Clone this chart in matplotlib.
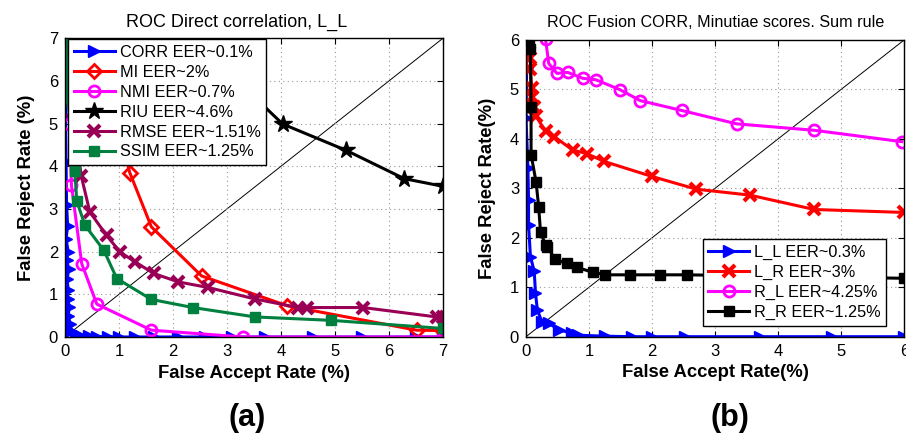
import matplotlib
matplotlib.use("Agg")
import matplotlib.pyplot as plt

plt.rcParams["font.family"] = ["Liberation Sans", "DejaVu Sans"]

# ---- panel (a): ROC Direct correlation, L_L ----
corr_far = [0.02, 0.03, 0.01, 0.02, 0.03, 0.05, 0.02, 0.06, 0.03, 0.07, 0.04, 0.06, 0.05, 0.08,
            0.06, 0.10, 0.12, 0.20, 0.30, 0.45, 0.60, 0.80, 1.00, 1.30, 1.65, 2.10, 2.60, 3.10,
            3.70, 4.60, 5.50, 6.50, 7.00]
corr_frr = [7.00, 6.45, 5.15, 4.10, 3.10, 2.60, 2.30, 2.00, 1.80, 1.60, 1.35, 1.10, 0.90, 0.70,
            0.50, 0.30, 0.15, 0.06, 0.03, 0.02, 0.01, 0.01, 0.0, 0.0, 0.0, 0.0, 0.0, 0.0,
            0.0, 0.0, 0.0, 0.0, 0.0]

mi_far = [0.60, 0.90, 1.20, 1.60, 2.53, 4.12, 6.51, 7.00]
mi_frr = [7.00, 5.30, 3.85, 2.58, 1.43, 0.73, 0.16, 0.15]

nmi_far = [0.05, 0.08, 0.12, 0.31, 0.59, 1.60, 3.30, 7.00]
nmi_frr = [7.00, 5.00, 3.56, 1.72, 0.77, 0.16, 0.00, 0.00]

riu_far = [2.37, 4.03, 5.21, 6.28, 7.00]
riu_frr = [7.00, 4.99, 4.37, 3.71, 3.53]

rmse_far = [0.02, 0.03, 0.15, 0.30, 0.46, 0.77, 1.02, 1.30, 1.64, 2.10, 2.65, 3.52, 4.32, 4.48,
            5.52, 6.88, 7.00]
rmse_frr = [7.00, 6.45, 5.30, 3.78, 2.93, 2.38, 1.99, 1.76, 1.49, 1.29, 1.16, 0.89, 0.69, 0.69,
            0.69, 0.47, 0.46]

ssim_far = [0.02, 0.05, 0.18, 0.22, 0.37, 0.72, 0.96, 1.60, 2.37, 3.52, 4.93, 7.00]
ssim_frr = [7.00, 5.60, 3.90, 3.18, 2.62, 2.03, 1.37, 0.88, 0.69, 0.47, 0.39, 0.20]

# ---- panel (b): ROC Fusion CORR, Minutiae scores. Sum rule ----
ll_far = [0.00, 0.01, 0.00, 0.03, 0.04, 0.04, 0.07, 0.13, 0.15, 0.18, 0.25, 0.36, 0.52, 0.73,
          0.83, 1.26, 1.68, 2.00, 2.52, 3.71, 4.85, 6.00]
ll_frr = [6.00, 5.42, 4.41, 3.41, 2.76, 2.26, 1.62, 1.32, 0.88, 0.54, 0.30, 0.27, 0.14, 0.07,
          0.03, 0.01, 0.0, 0.0, 0.0, 0.0, 0.0, 0.0]

lr_far = [0.03, 0.04, 0.07, 0.07, 0.09, 0.10, 0.12, 0.16, 0.31, 0.45, 0.74, 0.96, 1.24, 1.99,
          2.70, 3.55, 4.57, 6.00]
lr_frr = [6.00, 5.93, 5.63, 5.40, 5.02, 4.85, 4.65, 4.45, 4.15, 4.04, 3.77, 3.70, 3.54, 3.24,
          2.98, 2.86, 2.57, 2.51]

rl_far = [0.31, 0.36, 0.49, 0.66, 0.90, 1.11, 1.49, 1.81, 2.47, 3.34, 4.57, 5.96]
rl_frr = [6.01, 5.52, 5.32, 5.34, 5.22, 5.19, 4.99, 4.77, 4.57, 4.30, 4.17, 3.94]

rr_far = [0.05, 0.07, 0.08, 0.08, 0.16, 0.20, 0.23, 0.31, 0.34, 0.46, 0.65, 0.81, 1.06, 1.26,
          1.65, 2.13, 2.55, 6.00]
rr_frr = [6.00, 5.81, 4.64, 3.68, 3.12, 2.63, 2.11, 1.85, 1.82, 1.56, 1.48, 1.40, 1.30, 1.25,
          1.25, 1.25, 1.25, 1.18]


def style_axes(ax, lim):
    ax.set_xlim(0, lim)
    ax.set_ylim(0, lim)
    ax.set_xticks(range(lim + 1))
    ax.set_yticks(range(lim + 1))
    ax.plot([0, lim], [0, lim], color="black", linewidth=0.7, zorder=1)
    ax.grid(True, linestyle=(0, (1, 3)), color="#999999", linewidth=0.8)
    ax.tick_params(direction="in", top=True, right=True, labelsize=12, length=4, pad=5)
    for s in ax.spines.values():
        s.set_linewidth(1.0)
        s.set_zorder(5)


def add_legend(ax, **kw):
    leg = ax.legend(borderaxespad=0, fontsize=11.7, numpoints=1, handlelength=2.5,
                    handletextpad=0.3, labelspacing=0.3, borderpad=0.35, fancybox=False,
                    framealpha=1, edgecolor="black", **kw)
    leg.get_frame().set_linewidth(1.0)
    leg.set_zorder(6)
    return leg


fig = plt.figure(figsize=(9.06, 4.34), dpi=100)
ax1 = fig.add_axes([0.0717, 0.2235, 0.4173, 0.6885])
ax2 = fig.add_axes([0.5806, 0.2242, 0.4177, 0.6843])

lw = 2.2
ax1.plot(corr_far, corr_frr, color="#0000ff", lw=lw, marker=">", ms=8.5, label="CORR EER~0.1%")
ax1.plot(mi_far, mi_frr, color="#ff0000", lw=lw, marker="D", ms=7, mfc="none", mew=2,
         label="MI EER~2%")
ax1.plot(nmi_far, nmi_frr, color="#ff00ff", lw=lw, marker="o", ms=8, mfc="none", mew=2,
         label="NMI EER~0.7%")
ax1.plot(riu_far, riu_frr, color="black", lw=lw, marker="*", ms=13, label="RIU EER~4.6%")
ax1.plot(rmse_far, rmse_frr, color="#990055", lw=lw, marker="x", ms=8, mew=3,
         label="RMSE EER~1.51%")
ax1.plot(ssim_far, ssim_frr, color="#00803f", lw=lw, marker="s", ms=7, label="SSIM EER~1.25%")
style_axes(ax1, 7)
ax1.set_title("ROC Direct correlation, L_L", fontsize=13, x=0.454, pad=8)
ax1.set_xlabel("False Accept Rate (%)", fontsize=13.3, fontweight="bold", labelpad=4)
ax1.set_ylabel("False Reject Rate (%)", fontsize=13.3, fontweight="bold", labelpad=10)
add_legend(ax1, loc="upper left", bbox_to_anchor=(0.009, 0.996))

ax2.plot(ll_far, ll_frr, color="#0000ff", lw=lw, marker=">", ms=8.5, label="L_L EER~0.3%")
ax2.plot(lr_far, lr_frr, color="#ff0000", lw=lw, marker="x", ms=8, mew=3, label="L_R EER~3%")
ax2.plot(rl_far, rl_frr, color="#ff00ff", lw=lw, marker="o", ms=8, mfc="none", mew=2,
         label="R_L EER~4.25%")
ax2.plot(rr_far, rr_frr, color="black", lw=lw, marker="s", ms=6.5, label="R_R EER~1.25%")
style_axes(ax2, 6)
ax2.set_title("ROC Fusion CORR, Minutiae scores. Sum rule", fontsize=11.6, pad=9)
ax2.set_xlabel("False Accept Rate(%)", fontsize=13.3, fontweight="bold", labelpad=4)
ax2.set_ylabel("False Reject Rate(%)", fontsize=13.3, fontweight="bold", labelpad=10)
add_legend(ax2, loc="lower right", bbox_to_anchor=(0.952, 0.037))

fig.text(0.273, 0.037, "(a)", fontsize=22, fontweight="bold", ha="center", va="center")
fig.text(0.806, 0.037, "(b)", fontsize=22, fontweight="bold", ha="center", va="center")

fig.savefig("out.png", dpi=100)
